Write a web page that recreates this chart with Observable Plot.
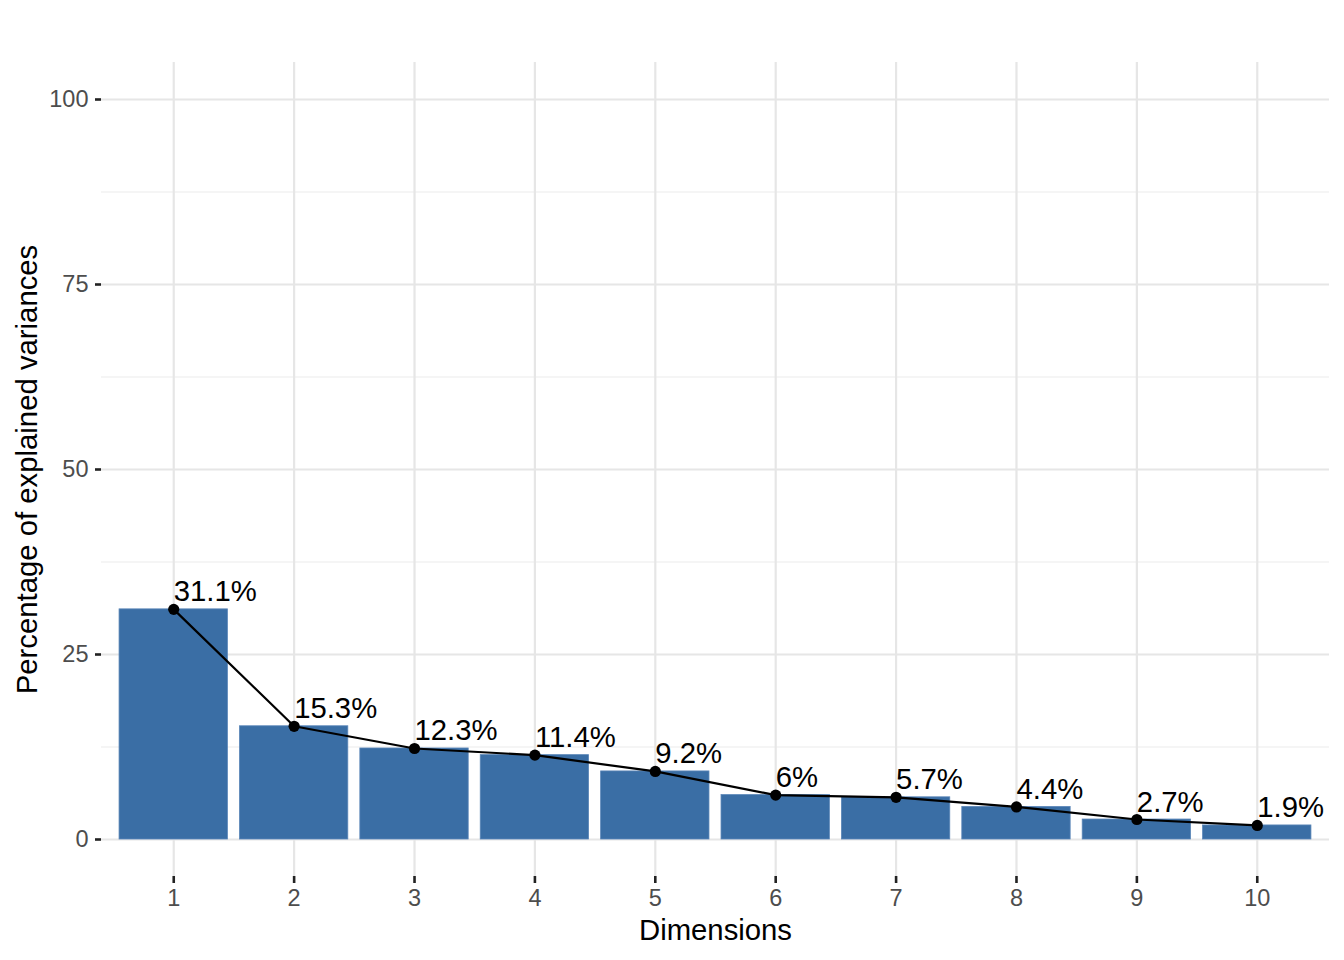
<!DOCTYPE html>
<html>
<head>
<meta charset="utf-8">
<script src="https://cdn.jsdelivr.net/npm/d3@7"></script>
<script src="https://cdn.jsdelivr.net/npm/@observablehq/plot@0.6"></script>
<style>
  html, body { margin: 0; padding: 0; background: #fff; }
  #chart svg { display: block; }
</style>
</head>
<body>
<div id="chart"></div>
<script>
const dims = [1, 2, 3, 4, 5, 6, 7, 8, 9, 10];
const variances = [31.1, 15.3, 12.3, 11.4, 9.2, 6.0, 5.7, 4.4, 2.7, 1.9];
const labels = ["31.1%", "15.3%", "12.3%", "11.4%", "9.2%", "6%", "5.7%", "4.4%", "2.7%", "1.9%"];
const yTicks = [0, 25, 50, 75, 100];
const yMinor = [12.5, 37.5, 62.5, 87.5];
const xTitle = "Dimensions";
const yTitle = "Percentage of explained variances";

const data = dims.map((d, i) => ({dim: d, v: variances[i], label: labels[i]}));
const font = "'Liberation Sans', Arial, Helvetica, sans-serif";
const barColor = "#3A6EA5";

const chart = Plot.plot({
  width: 1344,
  height: 960,
  marginLeft: 101,
  marginRight: 15,
  marginTop: 62,
  marginBottom: 84,
  style: {fontFamily: font, background: "#fff"},
  x: {type: "linear", domain: [0.4, 10.6]},
  y: {domain: [-5, 105]},
  marks: [
    Plot.ruleY(yMinor, {stroke: "#ebebeb", strokeWidth: 1.2}),
    Plot.ruleY(yTicks, {stroke: "#e6e6e6", strokeWidth: 2.2}),
    Plot.ruleX(dims, {stroke: "#e6e6e6", strokeWidth: 2.2}),
    Plot.rect(data, {
      x1: d => d.dim - 0.45,
      x2: d => d.dim + 0.45,
      y1: 0,
      y2: "v",
      fill: barColor,
      stroke: "#5b86b8",
      strokeWidth: 0.8
    }),
    Plot.line(data, {x: "dim", y: "v", stroke: "#000", strokeWidth: 2.2}),
    Plot.dot(data, {x: "dim", y: "v", r: 5.6, fill: "#000", stroke: "none"}),
    Plot.text(data, {
      x: "dim", y: "v", text: "label",
      textAnchor: "start", lineAnchor: "bottom",
      dy: -8, fontSize: 29.3, fill: "#000"
    }),
    Plot.axisX({
      ticks: dims, tickFormat: d => String(d),
      tickSize: 7, tickPadding: 6, fontSize: 23.5,
      stroke: "#222", fill: "#4d4d4d", strokeWidth: 2.6,
      label: null
    }),
    Plot.axisY({
      ticks: yTicks, tickFormat: d => String(d),
      tickSize: 6, tickPadding: 7, fontSize: 23.5,
      stroke: "#222", fill: "#4d4d4d", strokeWidth: 2.6,
      label: null
    }),
    Plot.text([xTitle], {
      frameAnchor: "bottom", dy: 54, lineAnchor: "middle",
      fontSize: 29.3, fill: "#000"
    }),
    Plot.text([yTitle], {
      frameAnchor: "left", dx: -74, rotate: -90,
      textAnchor: "middle", lineAnchor: "middle",
      fontSize: 29.3, fill: "#000"
    })
  ]
});
document.getElementById("chart").appendChild(chart);
</script>
</body>
</html>
